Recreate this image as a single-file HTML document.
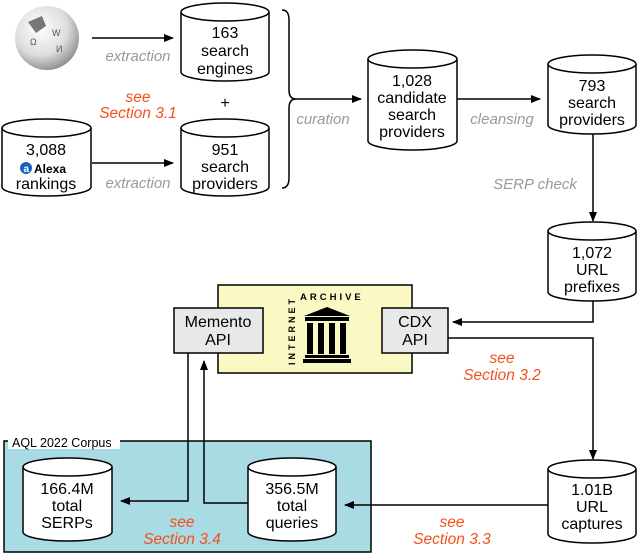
<!DOCTYPE html>
<html><head><meta charset="utf-8"><style>
html,body{margin:0;padding:0;background:#fff}
svg{display:block}
text{font-family:"Liberation Sans",sans-serif}
.n{font-size:16px;fill:#000;text-anchor:middle}
.g{font-size:15px;fill:#999;font-style:italic;text-anchor:middle}
.r{font-size:15.5px;fill:#f4511e;font-style:italic;text-anchor:middle}
</style></head><body>
<svg width="640" height="556" viewBox="0 0 640 556" xmlns="http://www.w3.org/2000/svg">
<defs>
<marker id="a" markerWidth="10" markerHeight="8" refX="9" refY="4" orient="auto" markerUnits="userSpaceOnUse"><path d="M0,0 L10,4 L0,8 z" fill="#000"/></marker>
</defs>
<rect x="4" y="441" width="367" height="111" fill="#a8dbe3" stroke="#000" stroke-width="1.5"/>
<rect x="8" y="435" width="112" height="14" fill="#fff"/>
<text x="12" y="447" font-size="12.5" fill="#000">AQL 2022 Corpus</text>
<rect x="218" y="285" width="194" height="88" fill="#fbf9c3" stroke="#000" stroke-width="1.5"/>
<rect x="174" y="308" width="89" height="45" fill="#e8e8e8" stroke="#000" stroke-width="1.5"/>
<text class="n" x="218" y="327">Memento</text><text class="n" x="218" y="345">API</text>
<rect x="382" y="308" width="66" height="45" fill="#e8e8e8" stroke="#000" stroke-width="1.5"/>
<text class="n" x="415" y="327">CDX</text><text class="n" x="415" y="345">API</text>
<text x="300" y="300" font-size="9.5" font-family="Liberation Serif" font-weight="bold" letter-spacing="3">ARCHIVE</text>
<text x="0" y="0" font-size="9" font-family="Liberation Serif" font-weight="bold" letter-spacing="3" transform="translate(295,365) rotate(-90)">INTERNET</text>
<g fill="#000"><path d="M304,316 L327,307 L350,316 z"/><rect x="305" y="317" width="44" height="4"/>
<rect x="307" y="323" width="6" height="31"/><rect x="318" y="323" width="6" height="31"/><rect x="329" y="323" width="6" height="31"/><rect x="340" y="323" width="6" height="31"/>
<rect x="305" y="355" width="44" height="3"/><rect x="303" y="359" width="48" height="4"/></g>
<g fill="#fff" stroke="#000" stroke-width="1.5">
<path d="M181,12 V72 A44,9 0 0 0 269,72 V12"/><ellipse cx="225" cy="12" rx="44" ry="9"/>
<path d="M181,128 V187 A44,9 0 0 0 269,187 V128"/><ellipse cx="225" cy="128" rx="44" ry="9"/>
<path d="M2,128 V187 A44.5,9 0 0 0 91,187 V128"/><ellipse cx="46.5" cy="128" rx="44.5" ry="9"/>
<path d="M368,59 V141 A44.5,9 0 0 0 457,141 V59"/><ellipse cx="412.5" cy="59" rx="44.5" ry="9"/>
<path d="M548,64 V125 A44,9 0 0 0 636,125 V64"/><ellipse cx="592" cy="64" rx="44" ry="9"/>
<path d="M548,231 V292 A44,9 0 0 0 636,292 V231"/><ellipse cx="592" cy="231" rx="44" ry="9"/>
<path d="M548,469 V534 A44,9 0 0 0 636,534 V469"/><ellipse cx="592" cy="469" rx="44" ry="9"/>
<path d="M248,467 V532 A44,9 0 0 0 336,532 V467"/><ellipse cx="292" cy="467" rx="44" ry="9"/>
<path d="M23,467 V532 A44.5,9 0 0 0 112,532 V467"/><ellipse cx="67.5" cy="467" rx="44.5" ry="9"/>
</g>
<text class="n" x="225" y="38">163</text><text class="n" x="225" y="56">search</text><text class="n" x="225" y="74">engines</text>
<text class="n" x="225" y="155">951</text><text class="n" x="225" y="172">search</text><text class="n" x="225" y="189">providers</text>
<text class="n" x="46" y="155">3,088</text><text class="n" x="46" y="189">rankings</text>
<circle cx="26" cy="168" r="6" fill="#1565c0"/><text x="23.5" y="172" font-size="10" fill="#fff" font-weight="bold">a</text>
<text x="34" y="173" font-size="12" font-family="Liberation Mono" font-weight="bold">Alexa</text>
<text class="n" x="412" y="86">1,028</text><text class="n" x="412" y="103">candidate</text><text class="n" x="412" y="120">search</text><text class="n" x="412" y="137">providers</text>
<text class="n" x="592" y="91">793</text><text class="n" x="592" y="108">search</text><text class="n" x="592" y="125">providers</text>
<text class="n" x="592" y="258">1,072</text><text class="n" x="592" y="275">URL</text><text class="n" x="592" y="292">prefixes</text>
<text class="n" x="592" y="495">1.01B</text><text class="n" x="592" y="512">URL</text><text class="n" x="592" y="529">captures</text>
<text class="n" x="292" y="494">356.5M</text><text class="n" x="292" y="511">total</text><text class="n" x="292" y="528">queries</text>
<text class="n" x="67" y="494">166.4M</text><text class="n" x="67" y="511">total</text><text class="n" x="67" y="528">SERPs</text>
<defs><radialGradient id="w" cx="0.4" cy="0.35" r="0.7"><stop offset="0" stop-color="#fff"/><stop offset="0.6" stop-color="#ddd"/><stop offset="1" stop-color="#888"/></radialGradient></defs>
<circle cx="47" cy="38" r="32" fill="url(#w)"/>
<path d="M28,22 L42,16 L46,26 L36,33 z" fill="#777"/>
<text x="30" y="45" font-size="9" fill="#555">Ω</text><text x="52" y="36" font-size="9" fill="#555">W</text><text x="56" y="52" font-size="9" fill="#555">И</text>
<g stroke="#000" stroke-width="1.5" fill="none">
<line x1="92" y1="38" x2="173" y2="38" marker-end="url(#a)"/>
<line x1="92" y1="163" x2="173" y2="163" marker-end="url(#a)"/>
<path d="M282,10 Q289,10 289,20 V90 Q289,99 296,99 Q289,99 289,108 V178 Q289,188 282,188"/>
<line x1="296" y1="99" x2="361" y2="99" marker-end="url(#a)"/>
<line x1="457" y1="99" x2="540" y2="99" marker-end="url(#a)"/>
<line x1="593" y1="134" x2="593" y2="221" marker-end="url(#a)"/>
<path d="M593,301 V322 H453" marker-end="url(#a)"/>
<path d="M448,338 H593 V459" marker-end="url(#a)"/>
<line x1="548" y1="505" x2="345" y2="505" marker-end="url(#a)"/>
<path d="M248,503 H204 V361" marker-end="url(#a)"/>
<path d="M188,353 V501 H121" marker-end="url(#a)"/>
</g>
<text class="n" x="225" y="108" font-size="20">+</text>
<text class="g" x="138" y="61">extraction</text>
<text class="g" x="138" y="188">extraction</text>
<text class="g" x="323" y="124">curation</text>
<text class="g" x="502" y="124">cleansing</text>
<text class="g" x="535" y="189">SERP check</text>
<text class="r" x="138" y="102">see</text><text class="r" x="138" y="118">Section 3.1</text>
<text class="r" x="502" y="363">see</text><text class="r" x="502" y="380">Section 3.2</text>
<text class="r" x="452" y="527">see</text><text class="r" x="452" y="544">Section 3.3</text>
<text class="r" x="182" y="527">see</text><text class="r" x="182" y="544">Section 3.4</text>
</svg>
</body></html>
